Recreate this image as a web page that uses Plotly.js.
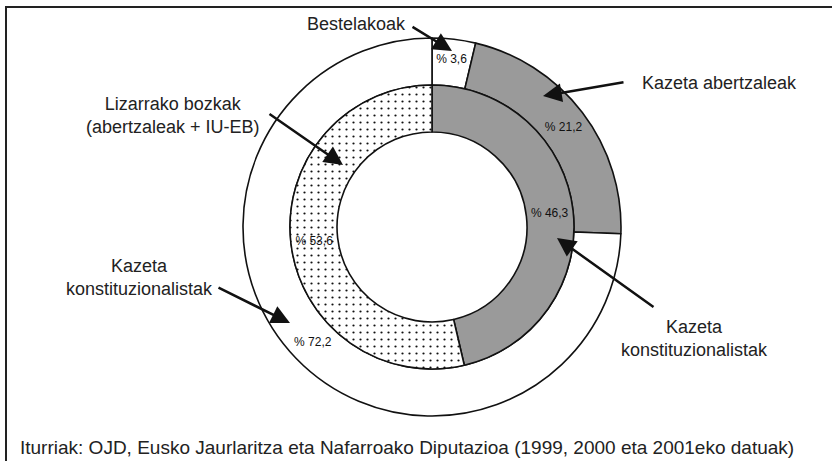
<!DOCTYPE html>
<html>
<head>
<meta charset="utf-8">
<script src="https://cdn.plot.ly/plotly-3.0.1.min.js"></script>
<style>html,body{margin:0;padding:0;background:#fff;}#chart{width:832px;height:461px;}</style>
</head>
<body>
<div id="chart"></div>
<script>
// Outer ring: newspaper readership
const outerLabels = ['Bestelakoak', 'Kazeta abertzaleak', 'Kazeta konstituzionalistak'];
const outerValues = [3.6, 21.2, 72.2];
// Inner ring: votes
const innerLabels = ['Kazeta konstituzionalistak', 'Lizarrako bozkak (abertzaleak + IU-EB)'];
const innerValues = [46.3, 53.6];
const sourceNote = 'Iturriak: OJD, Eusko Jaurlaritza eta Nafarroako Diputazioa (1999, 2000 eta 2001eko datuak)';

const fmt = v => '% ' + String(v).replace('.', ',');
const W = 832, H = 461;
const px = x => x / W, py = y => 1 - y / H;
const FONT = 'Liberation Sans, Arial, Helvetica, sans-serif';

const outer = {
  type: 'pie', labels: outerLabels, values: outerValues,
  text: outerValues.map(fmt), textinfo: 'text', textposition: 'inside',
  insidetextorientation: 'horizontal',
  textfont: {size: 12, color: '#111', family: FONT},
  sort: false, direction: 'clockwise', rotation: 0,
  hole: 0.751,
  domain: {x: [px(243), px(621)], y: [py(416), py(38)]},
  marker: {colors: ['#ffffff', '#9a9a9a', '#ffffff'], line: {color: '#111', width: 1.6}},
  hoverinfo: 'none', showlegend: false
};
const inner = {
  type: 'pie', labels: innerLabels, values: innerValues,
  text: innerValues.map(fmt), textinfo: 'text', textposition: 'inside',
  insidetextorientation: 'horizontal',
  textfont: {size: 12, color: '#111', family: FONT},
  sort: false, direction: 'clockwise', rotation: 0,
  hole: 0.669,
  domain: {x: [px(290), px(574)], y: [py(369), py(85)]},
  marker: {colors: ['#9a9a9a', '#ffffff'], line: {color: '#111', width: 1.6},
           pattern: {shape: ['', '.'], fgcolor: '#111', bgcolor: '#ffffff', size: 7, solidity: 0.08}},
  hoverinfo: 'none', showlegend: false
};

function label(text, x, y, align, size) {
  return {text: text, x: px(x), y: py(y), xref: 'paper', yref: 'paper', showarrow: false,
          xanchor: align || 'center', yanchor: 'middle', align: 'center',
          font: {size: size || 18, color: '#222', family: FONT}};
}
function arrow(hx, hy, tx, ty) {
  return {text: '', x: px(hx), y: py(hy), xref: 'paper', yref: 'paper', showarrow: true,
          ax: tx - hx, ay: ty - hy, arrowhead: 2, arrowsize: 1.5, arrowwidth: 2.5, arrowcolor: '#111'};
}

const layout = {
  width: W, height: H, margin: {l: 0, r: 0, t: 0, b: 0},
  paper_bgcolor: '#fff', plot_bgcolor: '#fff', showlegend: false,
  font: {family: FONT},
  shapes: [{type: 'rect', xref: 'paper', yref: 'paper', x0: px(6), x1: 1.02, y0: -0.02, y1: py(7),
            line: {color: '#222', width: 2}}],
  annotations: [
    label(outerLabels[0], 408, 24, 'right'),
    arrow(452, 51, 411, 26),
    label(outerLabels[1], 640, 83, 'left'),
    arrow(543, 96, 625, 82),
    label('Lizarrako bozkak<br>(abertzaleak + IU-EB)', 173, 115),
    arrow(343, 165, 268, 113),
    label('Kazeta<br>konstituzionalistak', 139, 277),
    arrow(290, 323, 217, 287),
    label('Kazeta<br>konstituzionalistak', 694, 338),
    arrow(557, 238, 655, 308),
    label(sourceNote, 18, 447, 'left', 19)
  ]
};

Plotly.newPlot('chart', [outer, inner], layout, {staticPlot: true, displayModeBar: false});
</script>
</body>
</html>
